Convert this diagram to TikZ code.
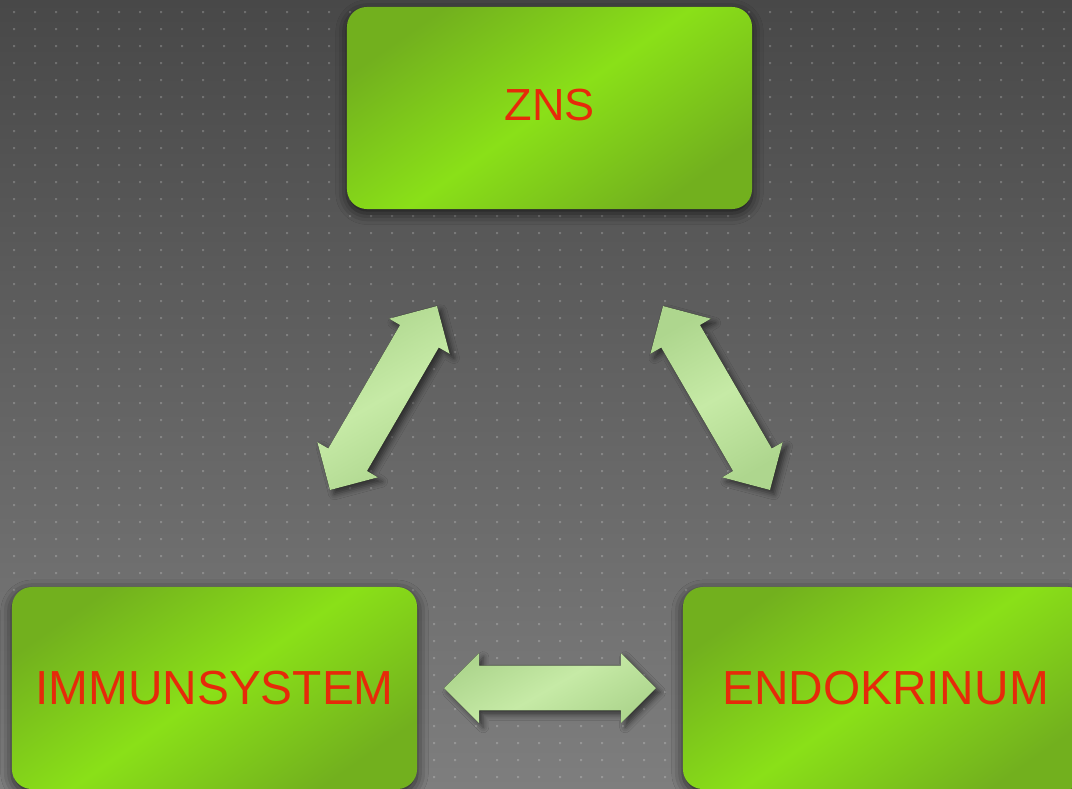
\documentclass[tikz,border=0pt]{standalone}
\usepackage{fontspec}
\setmainfont{Liberation Sans}
\usetikzlibrary{calc,shadows.blur}

\definecolor{bgtop}{RGB}{72,72,72}
\definecolor{bgbot}{RGB}{126,126,126}
\definecolor{boxdark}{RGB}{114,176,30}
\definecolor{boxlight}{RGB}{138,224,24}
\definecolor{labelred}{RGB}{230,42,10}
\definecolor{arrowmid}{RGB}{198,234,166}
\definecolor{arrowedge}{RGB}{174,214,142}

\newcommand\fatarrow[2]{%
  \fill[blockarrow] (#1)
    -- ($(#1)!0.875cm!(#2)!0.875cm!90:(#2)$)
    -- ($(#1)!0.875cm!(#2)!0.56cm!90:(#2)$)
    -- ($(#2)!0.875cm!(#1)!0.56cm!-90:(#1)$)
    -- ($(#2)!0.875cm!(#1)!0.875cm!-90:(#1)$)
    -- (#2)
    -- ($(#2)!0.875cm!(#1)!0.875cm!90:(#1)$)
    -- ($(#2)!0.875cm!(#1)!0.56cm!90:(#1)$)
    -- ($(#1)!0.875cm!(#2)!0.56cm!-90:(#2)$)
    -- ($(#1)!0.875cm!(#2)!0.875cm!-90:(#2)$)
    -- cycle;}

\begin{document}
\begin{tikzpicture}[x=0.025cm,y=-0.025cm,
    sysbox/.style={rectangle,rounded corners=0.5cm,
      minimum width=10.125cm,minimum height=5.05cm,
      left color=boxdark,right color=boxdark,middle color=boxlight,
      shading angle=35,text=labelred,font=\fontsize{34}{40}\selectfont,
      blur shadow={shadow xshift=0pt,shadow yshift=-3pt,
        shadow blur radius=8pt,shadow opacity=70}},
    blockarrow/.style={left color=arrowedge,right color=arrowedge,
      middle color=arrowmid,shading angle=30,
      blur shadow={shadow xshift=3pt,shadow yshift=-3pt,
        shadow blur radius=4pt,shadow opacity=55}}]
  \useasboundingbox (0,0) rectangle (1072,789);
  \shade[top color=bgtop,bottom color=bgbot] (0,0) rectangle (1072,789);
  \fill[white,opacity=0.2]
    \foreach \x in {14,35,...,1064} {\foreach \y in {12,29,...,789}
      {(\x-1,\y-1) rectangle (\x+1,\y+1)}};

  \node[sysbox,font=\fontsize{32}{38}\selectfont] (zns) at (549.5,108)
    {\raisebox{4pt}{ZNS}};
  \node[sysbox] (immun) at (214.5,688) {IMMUNSYSTEM};
  \node[sysbox] (endo) at (885.5,688) {ENDOKRINUM};

  \coordinate (zi) at (437,306);
  \coordinate (iz) at (330,490);
  \coordinate (ze) at (663,306);
  \coordinate (ez) at (770,490);
  \coordinate (ie) at (444,688);
  \coordinate (ei) at (656,688);

  \fatarrow{iz}{zi}
  \fatarrow{ze}{ez}
  \fatarrow{ie}{ei}
\end{tikzpicture}
\end{document}
